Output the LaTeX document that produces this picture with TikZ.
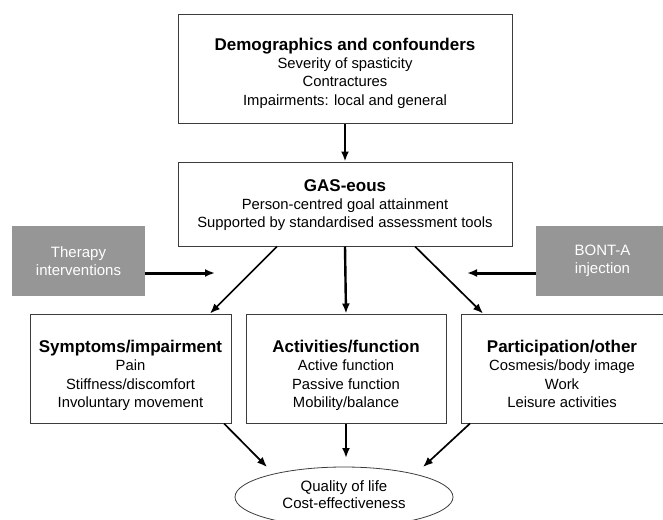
\documentclass[tikz,border=0pt]{standalone}
\usepackage{fontspec}
\setmainfont{Liberation Sans}
\usetikzlibrary{arrows.meta,shapes.geometric}
\definecolor{boxgray}{RGB}{150,150,150}
\definecolor{edgegray}{RGB}{60,60,60}
\newcommand{\boxtitle}[1]{{\fontsize{17}{18.5}\selectfont\bfseries #1}}
\newcommand{\lastline}[1]{#1\vphantom{gy}}
\begin{document}
\begin{tikzpicture}[x=1pt,y=-1pt,
  box/.style={draw=edgegray,line width=1pt,fill=white,rectangle,inner sep=0pt},
  boxtext/.style={inner sep=0pt,align=center,font=\fontsize{14.8}{18.3}\selectfont},
  sidebox/.style={fill=boxgray,rectangle,inner sep=0pt,align=center,text=white,
    minimum width=133pt,minimum height=70pt,font=\fontsize{15}{17.5}\selectfont},
  arr/.style={line width=2.4pt,-{Latex[length=10pt,width=8pt]}},
  darr/.style={line width=1.7pt,-{Latex[length=10pt,width=8pt]}},
  sarr/.style={line width=3pt,-{Latex[length=10pt,width=8pt]}}]
\useasboundingbox (0,0) rectangle (663,519);
\clip (0,0) rectangle (663,519);

% main boxes
\node[box,minimum width=334pt,minimum height=108pt] (demo) at (345,69) {};
\node[boxtext] (demotext) at ([yshift=-4pt]demo.center)
  {\boxtitle{Demographics and confounders}\\
   Severity of spasticity\\ Contractures\\ \lastline{Impairments: local and general}};
\node[box,minimum width=334pt,minimum height=84pt] (gas) at (345,204) {};
\node[boxtext] (gastext) at ([yshift=-1pt]gas.center)
  {\boxtitle{GAS-eous}\\
   Person-centred goal attainment\\ \lastline{Supported by standardised assessment tools}};

\node[box,minimum width=201pt,minimum height=109pt] (symp) at (130.5,368.5) {};
\node[boxtext] (symptext) at ([yshift=-7pt]symp.center)
  {\boxtitle{Symptoms/impairment}\\
   Pain\\ Stiffness/discomfort\\ \lastline{Involuntary movement}};
\node[box,minimum width=200pt,minimum height=109pt] (act) at (346,368.5) {};
\node[boxtext] (acttext) at ([yshift=-7pt]act.center)
  {\boxtitle{Activities/function}\\
   Active function\\ Passive function\\ \lastline{Mobility/balance}};
\node[box,minimum width=202pt,minimum height=109pt] (part) at (562,368.5) {};
\node[boxtext] (parttext) at ([yshift=-7pt]part.center)
  {\boxtitle{Participation/other}\\
   Cosmesis/body image\\ Work\\ \lastline{Leisure activities}};

\node[draw=edgegray,line width=0.8pt,ellipse,minimum width=218pt,minimum height=60pt,
  inner sep=0pt,align=center,font=\fontsize{15}{17.5}\selectfont] (qol) at (344,497)
  {\raisebox{4pt}{\shortstack{Quality of life\\[0pt] Cost-effectiveness}}};

% intervention boxes
\node[sidebox] (ther) at (78.5,261) {Therapy\\ interventions};
\node[sidebox] (bont) at (602.5,261) {BONT-A\\ \lastline{injection}};

% free ends of the intervention arrows
\coordinate (therend) at (215,273);
\coordinate (bontend) at (467,273);

% connectors
\draw[arr] (demo.south) -- (gas.north);
\draw[arr] (gas.south) -- (act.north);
\draw[darr] (gas.south west -| 277,0) -- (symp.north east -| 210,0);
\draw[darr] (gas.south west -| 415,0) -- (part.north west -| 483,0);
\draw[sarr] (ther.east |- therend) -- (therend);
\draw[sarr] (bont.west |- bontend) -- (bontend);

\draw[darr] (symp.south west -| 224,0) -- (267,467);
\draw[arr] (act.south) -- (346,458);
\draw[darr] (part.south west -| 470,0) -- (423,467);
\end{tikzpicture}
\end{document}
